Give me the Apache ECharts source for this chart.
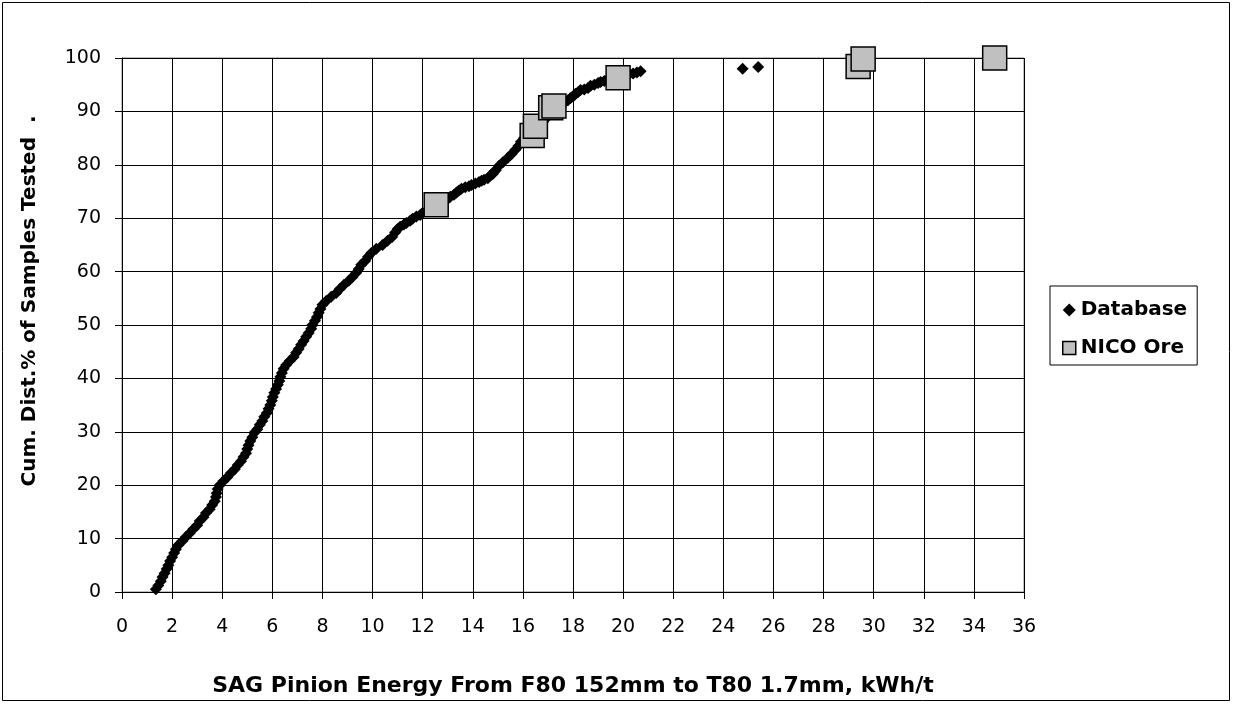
<!DOCTYPE html>
<html>
<head>
<meta charset="utf-8">
<script src="https://cdn.jsdelivr.net/npm/echarts@6/dist/echarts.min.js"></script>
<style>
html,body{margin:0;padding:0;background:#fff;}
#c{width:1233px;height:704px;}
</style>
</head>
<body>
<div id="c"></div>
<script>
// Database series: [SAG pinion energy kWh/t, cumulative %]
const databaseX = [1.35,1.45,1.55,1.62,1.70,1.78,1.85,1.92,2.00,2.08,2.15,2.25,2.40,2.55,2.70,2.85,3.00,3.10,3.25,3.35,3.50,3.60,3.70,3.75,3.78,3.82,3.90,4.05,4.20,4.35,4.50,4.62,4.75,4.85,4.95,5.00,5.05,5.12,5.20,5.28,5.40,5.50,5.60,5.68,5.78,5.85,5.92,5.98,6.02,6.08,6.15,6.22,6.28,6.32,6.38,6.45,6.55,6.70,6.85,6.95,7.05,7.15,7.25,7.35,7.45,7.55,7.60,7.70,7.78,7.85,7.92,8.00,8.15,8.35,8.55,8.70,8.85,9.05,9.20,9.35,9.45,9.55,9.70,9.82,9.95,10.15,10.40,10.60,10.78,10.90,11.00,11.10,11.25,11.35,11.50,11.60,11.75,11.90,12.00,12.15,12.30,12.40,12.55,12.70,12.85,13.00,13.10,13.25,13.35,13.45,13.55,13.70,13.85,13.95,14.10,14.25,14.35,14.45,14.60,14.70,14.80,14.85,14.92,15.05,15.20,15.40,15.55,15.70,15.82,15.92,16.05,16.25,16.45,16.65,16.80,16.95,17.10,17.25,17.45,17.55,17.70,17.80,17.90,18.00,18.10,18.20,18.30,18.45,18.60,18.70,18.85,19.00,19.10,19.25,19.40,19.55,19.65,19.80,20.00,20.25,20.40,20.55,20.70,24.77,25.39];
const databaseY = [0.5,1.2,2.0,2.8,3.5,4.3,5.0,5.8,6.5,7.3,8.0,8.8,9.5,10.3,11.0,11.8,12.5,13.3,14.0,14.8,15.5,16.3,17.0,17.8,18.5,19.3,20.0,20.8,21.5,22.3,23.0,23.8,24.5,25.3,26.0,26.8,27.5,28.3,29.0,29.8,30.5,31.3,32.0,32.8,33.5,34.3,35.0,35.8,36.5,37.3,38.0,38.8,39.5,40.3,41.0,41.8,42.5,43.3,44.0,44.8,45.5,46.3,47.0,47.8,48.5,49.3,50.0,50.8,51.5,52.3,53.0,53.8,54.5,55.3,56.0,56.8,57.5,58.3,59.0,59.8,60.5,61.3,62.0,62.8,63.5,64.3,65.0,65.8,66.5,67.3,68.0,68.4,68.8,69.1,69.5,69.9,70.3,70.6,71.0,71.3,71.8,72.0,72.5,72.9,73.3,73.6,74.0,74.4,74.8,75.2,75.5,75.8,76.0,76.2,76.5,76.8,77.0,77.2,77.5,78.0,78.3,78.7,79.0,79.8,80.5,81.3,82.0,82.8,83.5,84.3,85.0,85.8,86.5,87.3,88.0,88.8,89.5,90.3,91.0,91.4,91.8,92.1,92.5,92.8,93.3,93.6,94.0,94.1,94.4,94.8,95.0,95.3,95.5,95.7,96.0,96.1,96.3,96.5,96.7,97.0,97.1,97.3,97.5,98.0,98.3];
// NICO Ore series
const nicoX = [12.54,16.37,16.50,17.11,17.24,19.80,29.38,29.58,34.83];
const nicoY = [72.5,85.5,87.2,90.7,91.0,96.3,98.4,99.8,100.0];
// Axis ticks
const xTicks = {min:0, max:36, interval:2};
const yTicks = {min:0, max:100, interval:10};
const xTitle = 'SAG Pinion Energy From F80 152mm to T80 1.7mm, kWh/t';
const yTitle = 'Cum. Dist.% of Samples Tested  .';

const dbData = databaseX.map((x,i)=>[x, databaseY[i]]);
const nicoData = nicoX.map((x,i)=>[x, nicoY[i]]);
const FONT = '"DejaVu Sans", sans-serif';

const chart = echarts.init(document.getElementById('c'), null, {renderer:'canvas'});
chart.setOption({
  animation:false,
  backgroundColor:'#fff',
  graphic:[{type:'rect', shape:{x:2.5,y:2.5,width:1227,height:698}, style:{fill:'none', stroke:'#000', lineWidth:1}, z:-10}],
  grid:{left:122, right:209, top:58, bottom:112, show:true, borderColor:'#808080', borderWidth:1,
        containLabel:false, outerBoundsMode:'none'},
  xAxis:{
    type:'value', min:xTicks.min, max:xTicks.max, interval:xTicks.interval,
    name:xTitle, nameLocation:'middle', nameGap:83,
    nameTextStyle:{fontFamily:FONT, fontSize:22, fontWeight:'bold', color:'#000'},
    axisLine:{show:true, onZero:false, lineStyle:{color:'#000', width:1}},
    axisTick:{show:true, length:7, lineStyle:{color:'#000'}},
    axisLabel:{fontFamily:FONT, fontSize:19, color:'#000', margin:26},
    splitLine:{show:true, lineStyle:{color:'#000', width:1}}
  },
  yAxis:{
    type:'value', min:yTicks.min, max:yTicks.max, interval:yTicks.interval,
    name:yTitle, nameLocation:'middle', nameGap:82, nameRotate:90,
    nameTextStyle:{fontFamily:FONT, fontSize:20, fontWeight:'bold', color:'#000', padding:[0,0,0,48]},
    axisLine:{show:true, onZero:false, lineStyle:{color:'#000', width:1}},
    axisTick:{show:true, length:7, lineStyle:{color:'#000'}},
    axisLabel:{fontFamily:FONT, fontSize:19, color:'#000', margin:21},
    splitLine:{show:true, lineStyle:{color:'#000', width:1}}
  },
  legend:{
    orient:'vertical', left:1050, top:286,
    padding:[14,10,7,12], itemGap:18,
    backgroundColor:'#fff', borderColor:'#000', borderWidth:1,
    itemWidth:13, itemHeight:13,
    textStyle:{fontFamily:FONT, fontSize:20, fontWeight:'bold', color:'#000'},
    data:[
      {name:'Database', icon:'diamond', itemStyle:{color:'#000'}},
      {name:'NICO Ore', icon:'rect', itemStyle:{color:'#c0c0c0', borderColor:'#000', borderWidth:1.5}}
    ]
  },
  series:[
    {name:'Database', type:'scatter', data:dbData, symbol:'diamond', symbolSize:12,
     itemStyle:{color:'#000', opacity:1}, z:2},
    {name:'NICO Ore', type:'scatter', data:nicoData, symbol:'rect', symbolSize:24,
     itemStyle:{color:'#c0c0c0', borderColor:'#000', borderWidth:1.5, opacity:1}, z:3}
  ]
});
</script>
</body>
</html>
